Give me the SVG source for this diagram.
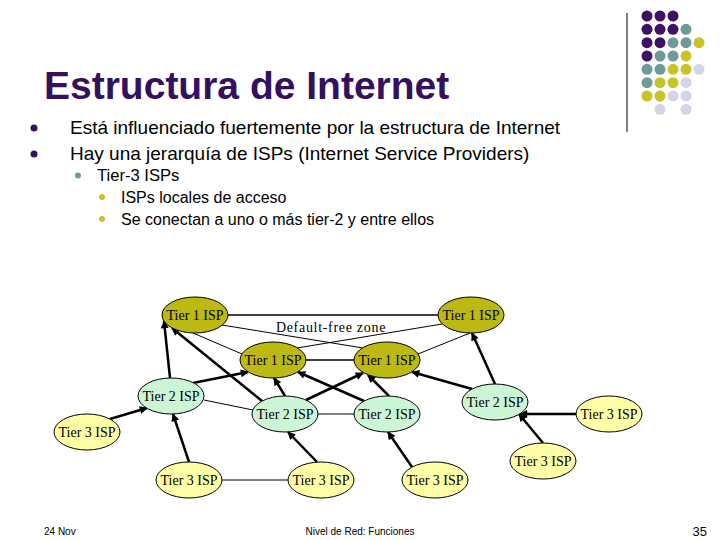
<svg xmlns="http://www.w3.org/2000/svg" width="720" height="540" viewBox="0 0 720 540">
<defs>
<style>
.title{font-family:"Liberation Sans",Arial,sans-serif;font-weight:bold;font-size:39px;fill:#33115f}
.b1{font-family:"Liberation Sans",Arial,sans-serif;font-size:19px;fill:#000}
.b2{font-family:"Liberation Sans",Arial,sans-serif;font-size:16.6px;fill:#000}
.b3{font-family:"Liberation Sans",Arial,sans-serif;font-size:16px;fill:#000}
.foot{font-family:"Liberation Sans",Arial,sans-serif;font-size:10px;fill:#000}
.node ellipse{stroke:#000;stroke-width:1}
.t1 ellipse{fill:#bdb913}
.t2 ellipse{fill:#ccf5d6}
.t3 ellipse{fill:#ffffa6}
.node text{font-family:"Liberation Serif","Times New Roman",serif;font-size:14px;fill:#000;text-anchor:middle}
.arr{stroke:#000;stroke-width:2.5;fill:none;marker-end:url(#ah)}
.peer{stroke:#000;stroke-width:1;fill:none}
.peerw{stroke:#000;stroke-width:1.3;fill:none}
.dp{fill:#3d1164}.dt{fill:#6f9a9a}.dy{fill:#c6c426}.dl{fill:#d4d4e6}
</style>
<marker id="ah" viewBox="0 0 10 10" refX="9" refY="5" markerWidth="9" markerHeight="8" markerUnits="userSpaceOnUse" orient="auto">
<path d="M0,0 L10,5 L0,10 z" fill="#000"/>
</marker>
</defs>
<rect width="720" height="540" fill="#fff"/>

<g id="decor">
<line x1="627" y1="13" x2="627" y2="132" stroke="#000" stroke-width="1"/>
<g>
<circle class="dp" cx="647" cy="16" r="5.5"/><circle class="dp" cx="660" cy="16" r="5.5"/><circle class="dp" cx="673" cy="16" r="5.5"/>
<circle class="dp" cx="647" cy="29.3" r="5.5"/><circle class="dp" cx="660" cy="29.3" r="5.5"/><circle class="dp" cx="673" cy="29.3" r="5.5"/><circle class="dt" cx="686" cy="29.3" r="5.5"/>
<circle class="dp" cx="647" cy="42.7" r="5.5"/><circle class="dp" cx="660" cy="42.7" r="5.5"/><circle class="dt" cx="673" cy="42.7" r="5.5"/><circle class="dt" cx="686" cy="42.7" r="5.5"/><circle class="dy" cx="699" cy="42.7" r="5.5"/>
<circle class="dp" cx="647" cy="56" r="5.5"/><circle class="dt" cx="660" cy="56" r="5.5"/><circle class="dt" cx="673" cy="56" r="5.5"/><circle class="dy" cx="686" cy="56" r="5.5"/>
<circle class="dt" cx="647" cy="69.3" r="5.5"/><circle class="dt" cx="660" cy="69.3" r="5.5"/><circle class="dy" cx="673" cy="69.3" r="5.5"/><circle class="dy" cx="686" cy="69.3" r="5.5"/><circle class="dl" cx="699" cy="69.3" r="5.5"/>
<circle class="dt" cx="647" cy="82.7" r="5.5"/><circle class="dy" cx="660" cy="82.7" r="5.5"/><circle class="dy" cx="673" cy="82.7" r="5.5"/><circle class="dl" cx="686" cy="82.7" r="5.5"/>
<circle class="dy" cx="647" cy="96" r="5.5"/><circle class="dy" cx="660" cy="96" r="5.5"/><circle class="dl" cx="673" cy="96" r="5.5"/><circle class="dl" cx="686" cy="96" r="5.5"/>
<circle class="dl" cx="660" cy="109.3" r="5.5"/><circle class="dl" cx="686" cy="109.3" r="5.5"/>
</g>
</g>

<text class="title" x="44" y="99">Estructura de Internet</text>

<g id="bullets">
<circle cx="34" cy="128" r="3.5" fill="#33115f"/>
<text class="b1" x="70" y="134">Está influenciado fuertemente por la estructura de Internet</text>
<circle cx="34" cy="154" r="3.5" fill="#33115f"/>
<text class="b1" x="70" y="160">Hay una jerarquía de ISPs (Internet Service Providers)</text>
<circle cx="78" cy="175.5" r="3" fill="#6f9a9a"/>
<text class="b2" x="97" y="181">Tier-3 ISPs</text>
<circle cx="102" cy="197" r="3" fill="#c6c426"/>
<text class="b3" x="121" y="202.5">ISPs locales de acceso</text>
<circle cx="102" cy="219" r="3" fill="#c6c426"/>
<text class="b3" x="121" y="224.5">Se conectan a uno o más tier-2 y entre ellos</text>
</g>

<g id="connectors">
<line class="peerw" x1="228" y1="315" x2="438" y2="315"/>
<line class="peerw" x1="306" y1="360" x2="354" y2="360"/>
<line class="peer" x1="318" y1="414" x2="354" y2="414"/>
<line class="peer" x1="222" y1="480" x2="288" y2="480"/>
<line class="peer" x1="193" y1="333" x2="242" y2="354"/>
<line class="peer" x1="222" y1="325" x2="363" y2="348"/>
<line class="peer" x1="442" y1="324" x2="297" y2="348"/>
<line class="peer" x1="470" y1="333" x2="418" y2="354"/>
<line class="peer" x1="204" y1="400" x2="253" y2="410"/>
<line class="arr" x1="170" y1="378" x2="164" y2="321"/>
<line class="arr" x1="193" y1="383" x2="248" y2="372"/>
<line class="arr" x1="262" y1="401" x2="172" y2="328"/>
<line class="arr" x1="285" y1="396" x2="274" y2="378"/>
<line class="arr" x1="306" y1="400" x2="363" y2="373"/>
<line class="arr" x1="364" y1="401" x2="298" y2="372"/>
<line class="arr" x1="389" y1="396" x2="368" y2="375"/>
<line class="arr" x1="472" y1="389" x2="412" y2="372"/>
<line class="arr" x1="495" y1="384" x2="472" y2="333"/>
<line class="arr" x1="110" y1="419" x2="147" y2="408"/>
<line class="arr" x1="189" y1="462" x2="173" y2="414"/>
<line class="arr" x1="317" y1="462" x2="288" y2="432"/>
<line class="arr" x1="412" y1="467" x2="388" y2="432"/>
<line class="arr" x1="543" y1="443" x2="519" y2="414"/>
<line class="arr" x1="576" y1="414" x2="520" y2="414"/>
</g>

<text x="331" y="332" font-family="'Liberation Serif','Times New Roman',serif" font-size="14" letter-spacing="0.7" text-anchor="middle">Default-free zone</text>

<g id="t1a" class="node t1"><ellipse cx="195" cy="315" rx="33" ry="18"/><text x="195" y="320">Tier 1 ISP</text></g>
<g id="t1b" class="node t1"><ellipse cx="471" cy="315" rx="33" ry="18"/><text x="471" y="320">Tier 1 ISP</text></g>
<g id="t1c" class="node t1"><ellipse cx="273" cy="360" rx="33" ry="18"/><text x="273" y="365">Tier 1 ISP</text></g>
<g id="t1d" class="node t1"><ellipse cx="387" cy="360" rx="33" ry="18"/><text x="387" y="365">Tier 1 ISP</text></g>
<g id="t2a" class="node t2"><ellipse cx="171" cy="396" rx="33" ry="18"/><text x="171" y="401">Tier 2 ISP</text></g>
<g id="t2b" class="node t2"><ellipse cx="285" cy="414" rx="33" ry="18"/><text x="285" y="419">Tier 2 ISP</text></g>
<g id="t2c" class="node t2"><ellipse cx="387" cy="414" rx="33" ry="18"/><text x="387" y="419">Tier 2 ISP</text></g>
<g id="t2d" class="node t2"><ellipse cx="495" cy="402" rx="33" ry="18"/><text x="495" y="407">Tier 2 ISP</text></g>
<g id="t3a" class="node t3"><ellipse cx="87" cy="432" rx="33" ry="18"/><text x="87" y="437">Tier 3 ISP</text></g>
<g id="t3b" class="node t3"><ellipse cx="189" cy="480" rx="33" ry="18"/><text x="189" y="485">Tier 3 ISP</text></g>
<g id="t3c" class="node t3"><ellipse cx="321" cy="480" rx="33" ry="18"/><text x="321" y="485">Tier 3 ISP</text></g>
<g id="t3d" class="node t3"><ellipse cx="435" cy="480" rx="33" ry="18"/><text x="435" y="485">Tier 3 ISP</text></g>
<g id="t3e" class="node t3"><ellipse cx="543" cy="461" rx="33" ry="18"/><text x="543" y="466">Tier 3 ISP</text></g>
<g id="t3f" class="node t3"><ellipse cx="609" cy="414" rx="33" ry="18"/><text x="609" y="419">Tier 3 ISP</text></g>

<g id="footer">
<text class="foot" x="44" y="535">24 Nov</text>
<text class="foot" x="360" y="535" text-anchor="middle">Nivel de Red: Funciones</text>
<text x="707" y="536" font-family="'Liberation Sans',Arial,sans-serif" font-size="13" text-anchor="end">35</text>
</g>
</svg>
